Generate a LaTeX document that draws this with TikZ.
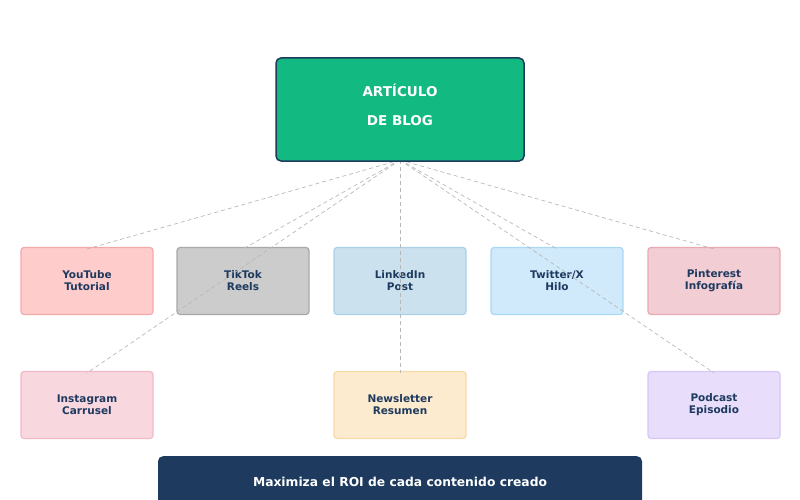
\documentclass[tikz,border=0pt]{standalone}
\usepackage{fontspec}
\setmainfont{DejaVu Sans}
\definecolor{navy}{HTML}{1E3A5F}
\definecolor{emer}{HTML}{12B981}
\definecolor{linegray}{HTML}{B8B8B8}
\definecolor{ytf}{HTML}{FFCCCC}\definecolor{ytd}{HTML}{F4A9A9}
\definecolor{ttf}{HTML}{CCCCCC}\definecolor{ttd}{HTML}{A8A8A8}
\definecolor{lif}{HTML}{CCE1EE}\definecolor{lid}{HTML}{A9D2EA}
\definecolor{twf}{HTML}{D1EAFB}\definecolor{twd}{HTML}{A9DAF5}
\definecolor{pif}{HTML}{F2CDD4}\definecolor{pid}{HTML}{E9A9B4}
\definecolor{igf}{HTML}{F9D7DF}\definecolor{igd}{HTML}{F3B9C7}
\definecolor{nlf}{HTML}{FDEBD0}\definecolor{nld}{HTML}{F9D9A5}
\definecolor{pcf}{HTML}{E8DDFB}\definecolor{pcd}{HTML}{D6C7F4}
\begin{document}
\begin{tikzpicture}[x=1pt,y=-1pt,
  chan/.style={rounded corners=3pt, line width=1.2pt, minimum width=132pt, minimum height=67pt,
    align=center, font=\bfseries\fontsize{10.5}{12}\selectfont, text=navy, inner sep=0pt},
  conn/.style={draw=linegray, dashed, dash pattern=on 4pt off 3pt, line width=0.7pt}]
\useasboundingbox (0,0) rectangle (800,500);
\begin{scope}
\clip (0,0) rectangle (800,500);
\node[fill=navy, rounded corners=5pt, minimum width=484pt, minimum height=60pt, inner sep=0pt, anchor=north] (foot) at (400,456) {};
\end{scope}
\node[font=\bfseries\fontsize{12.3}{14}\selectfont, text=white] (foottext) at (400,482) {Maximiza el ROI de cada contenido creado};
\coordinate (hub) at (400,160);
\coordinate (ytT) at (87,249);
\coordinate (ttT) at (243,249);
\coordinate (liT) at (400,249);
\coordinate (twT) at (557,249);
\coordinate (piT) at (714,249);
\coordinate (igT) at (87,373);
\coordinate (nlT) at (400,373);
\coordinate (pcT) at (714,373);
\node[chan, fill=ytf, draw=ytd] (yt) at (87,281) {YouTube\\Tutorial};
\node[chan, fill=ttf, draw=ttd] (tt) at (243,281) {TikTok\\Reels};
\node[chan, fill=lif, draw=lid] (li) at (400,281) {LinkedIn\\Post};
\node[chan, fill=twf, draw=twd] (tw) at (557,281) {Twitter/X\\Hilo};
\node[chan, fill=pif, draw=pid] (pi) at (714,281) {Pinterest\\Infografía};
\node[chan, fill=igf, draw=igd] (ig) at (87,405) {Instagram\\Carrusel};
\node[chan, fill=nlf, draw=nld] (nl) at (400,405) {Newsletter\\Resumen};
\node[chan, fill=pcf, draw=pcd] (pc) at (714,405) {Podcast\\Episodio};
\foreach \t in {ytT,ttT,liT,twT,piT,igT,nlT,pcT} \draw[conn] (hub) -- (\t);
\node[fill=emer, draw=navy, line width=1.5pt, rounded corners=5pt, minimum width=248pt, minimum height=103pt, inner sep=0pt] (blog) at (400,109.5) {};
\node[font=\bfseries\fontsize{13.5}{15}\selectfont, text=white] (t1) at (400,90) {ARTÍCULO};
\node[font=\bfseries\fontsize{13.5}{15}\selectfont, text=white] (t2) at (400,121) {DE BLOG};
\end{tikzpicture}
\end{document}
